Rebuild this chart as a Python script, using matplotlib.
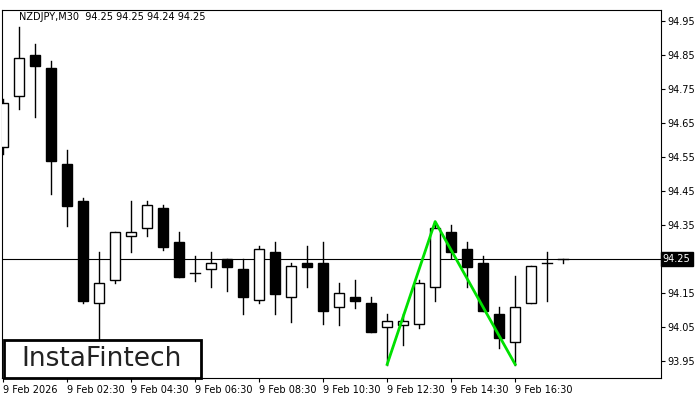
import matplotlib
matplotlib.use("Agg")
import matplotlib.pyplot as plt
from matplotlib.patches import Rectangle

opens = [94.579, 94.729, 94.85, 94.812, 94.529, 94.421, 94.12, 94.188, 94.318, 94.341,
         94.40, 94.30, 94.209, 94.221, 94.25, 94.221, 94.129, 94.27, 94.138, 94.238,
         94.238, 94.109, 94.138, 94.12, 94.05, 94.056, 94.059, 94.168, 94.329, 94.279,
         94.238, 94.088, 94.006, 94.12, 94.238, 94.25]
closes = [94.709, 94.841, 94.818, 94.538, 94.406, 94.126, 94.179, 94.329, 94.329, 94.409,
          94.285, 94.197, 94.209, 94.238, 94.226, 94.138, 94.279, 94.147, 94.229, 94.226,
          94.097, 94.15, 94.126, 94.035, 94.068, 94.068, 94.179, 94.341, 94.27, 94.226,
          94.097, 94.018, 94.109, 94.229, 94.238, 94.25]
highs = [94.72, 94.932, 94.882, 94.832, 94.571, 94.429, 94.27, 94.33, 94.42, 94.42,
         94.409, 94.329, 94.259, 94.27, 94.25, 94.25, 94.288, 94.30, 94.238, 94.288,
         94.30, 94.179, 94.188, 94.138, 94.088, 94.088, 94.188, 94.356, 94.35, 94.30,
         94.259, 94.109, 94.20, 94.229, 94.27, 94.25]
lows = [94.56, 94.691, 94.668, 94.441, 94.347, 94.12, 94.00, 94.179, 94.27, 94.318,
        94.276, 94.197, 94.185, 94.168, 94.156, 94.088, 94.12, 94.088, 94.065, 94.168,
        94.059, 94.056, 94.106, 94.035, 93.938, 93.997, 94.047, 94.126, 94.253, 94.168,
        94.097, 93.988, 93.938, 94.12, 94.126, 94.238]
pattern_idx = [24, 27, 32]
pattern_px = [93.94, 94.36, 93.94]
last_price = 94.25
tick_pos = [0, 4, 8, 12, 16, 20, 24, 28, 32]
tick_labels = ["9 Feb 2026", "9 Feb 02:30", "9 Feb 04:30", "9 Feb 06:30", "9 Feb 08:30",
               "9 Feb 10:30", "9 Feb 12:30", "9 Feb 14:30", "9 Feb 16:30"]
price_ticks = [93.95, 94.05, 94.15, 94.25, 94.35, 94.45, 94.55, 94.65, 94.75, 94.85, 94.95]

fig = plt.figure(figsize=(7, 4), dpi=100)
ax = fig.add_axes([0.003, 0.055, 0.941, 0.92])
w = 0.62
for i, (o, c, h, l) in enumerate(zip(opens, closes, highs, lows)):
    ax.plot([i, i], [l, h], color="black", lw=1, zorder=2)
    bot, top = min(o, c), max(o, c)
    if abs(c - o) < 0.002:
        ax.plot([i - w / 2, i + w / 2], [o, o], color="black", lw=1, zorder=3)
    else:
        ax.add_patch(Rectangle((i - w / 2, bot), w, top - bot, zorder=3,
                               facecolor="white" if c > o else "black",
                               edgecolor="black", lw=1))
ax.axhline(last_price, color="black", lw=0.8, zorder=1)
ax.plot(pattern_idx, pattern_px, color="#00e000", lw=2, zorder=4)

ax.set_xlim(-0.06, 41.1)
ax.set_ylim(93.90, 94.982)
ax.yaxis.tick_right()
ax.set_yticks(price_ticks)
ax.set_yticklabels(["" if p == last_price else f"{p:.2f}" for p in price_ticks], fontsize=7)
ax.set_xticks(tick_pos)
ax.set_xticklabels(tick_labels, fontsize=7, ha="left")
ax.tick_params(length=3, pad=2)
ax.text(1.003, last_price, f"{last_price:.2f}", transform=ax.get_yaxis_transform(),
        va="center", ha="left", fontsize=7, color="white",
        bbox=dict(facecolor="black", edgecolor="black", pad=1.5))
ax.text(0.025, 0.995, "NZDJPY,M30  94.25 94.25 94.24 94.25", transform=ax.transAxes,
        va="top", fontsize=7)

# logo box
fig.patches.append(Rectangle((4 / 700, 22 / 400), 197 / 700, 38 / 400, transform=fig.transFigure,
                             facecolor="white", edgecolor="black", lw=2, zorder=5))
fig.text(102 / 700, 41 / 400, "InstaFintech", ha="center", va="center",
         fontsize=19, color="#222222", zorder=6)
fig.savefig("out.png")
